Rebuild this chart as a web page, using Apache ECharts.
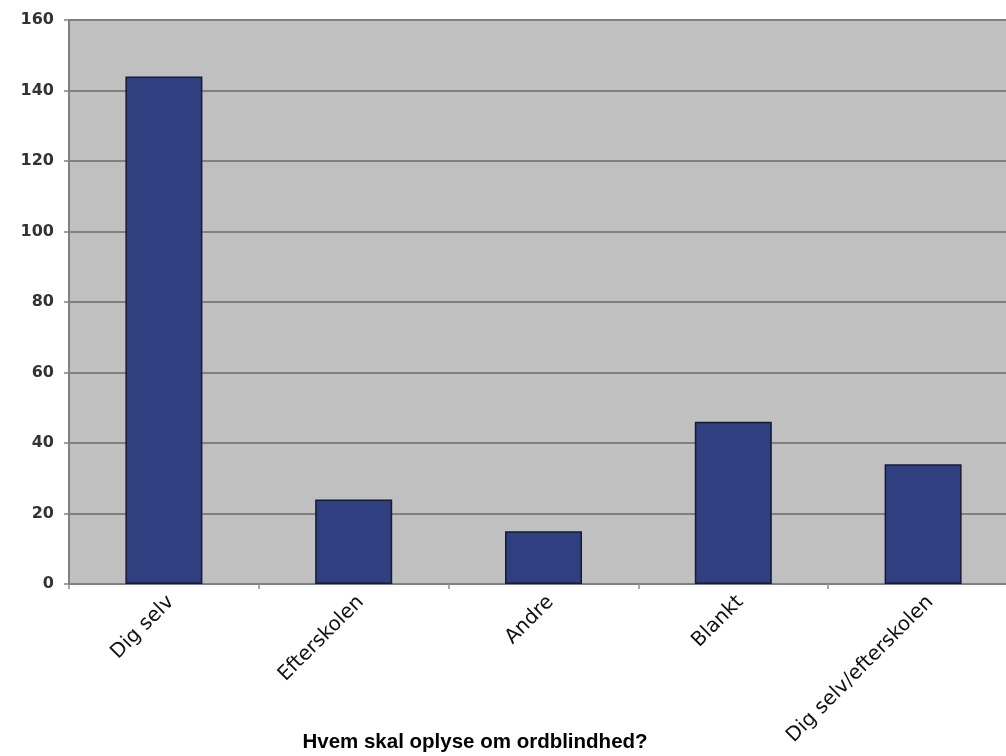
<!DOCTYPE html>
<html>
<head>
<meta charset="utf-8">
<script src="https://cdn.jsdelivr.net/npm/echarts@6/dist/echarts.min.js"></script>
<style>
html,body{margin:0;padding:0;overflow:hidden;background:#fff;}
#c{width:1018px;height:756px;}
</style>
</head>
<body>
<div id="c"></div>
<script>
const categories = ["Dig selv", "Efterskolen", "Andre", "Blankt", "Dig selv/efterskolen"];
const values = [144, 24, 15, 46, 34];
const yTicks = { min: 0, max: 160, interval: 20 };
const xTitle = "Hvem skal oplyse om ordblindhed?";

const chart = echarts.init(document.getElementById('c'));
chart.setOption({
  animation: false,
  backgroundColor: '#ffffff',
  title: {
    text: xTitle,
    left: 475,
    top: 732,
    padding: 0,
    textAlign: 'center',
    textStyle: { fontFamily: 'Liberation Sans, Arial, sans-serif', fontSize: 20.5, fontWeight: 'bold', color: '#000' }
  },
  grid: {
    left: 69, top: 20, right: 0, bottom: 172,
    show: true, backgroundColor: '#c0c0c0', borderWidth: 0
  },
  xAxis: {
    type: 'category',
    data: categories,
    axisLine: { show: true, lineStyle: { color: '#808080', width: 2 } },
    axisTick: { show: true, alignWithLabel: false, length: 5, lineStyle: { color: '#909090', width: 1.5 } },
    axisLabel: {
      interval: 0, rotate: 45, margin: 8, verticalAlign: 'top',
      fontFamily: 'DejaVu Sans, Verdana, sans-serif', fontSize: 20, color: '#111'
    }
  },
  yAxis: {
    type: 'value',
    min: yTicks.min, max: yTicks.max, interval: yTicks.interval,
    axisLine: { show: true, lineStyle: { color: '#808080', width: 2 } },
    axisTick: { show: true, length: 5, lineStyle: { color: '#808080', width: 1.5 } },
    splitLine: { show: true, lineStyle: { color: '#808080', width: 2 } },
    axisLabel: {
      margin: 15,
      fontFamily: 'DejaVu Sans, Verdana, sans-serif', fontSize: 16, fontWeight: 'bold', color: '#333'
    }
  },
  series: [{
    type: 'bar',
    data: values,
    barWidth: 77,
    itemStyle: { color: '#2f3f80', borderColor: '#151a35', borderWidth: 1.5 }
  }]
});
</script>
</body>
</html>
